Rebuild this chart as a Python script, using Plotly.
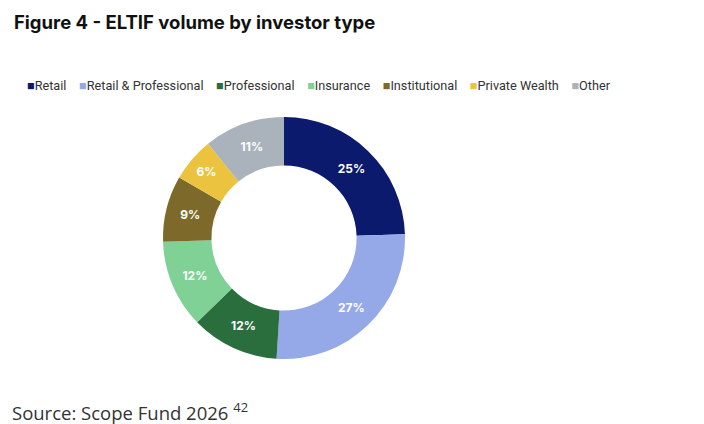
import plotly.graph_objects as go

categories = ["Retail", "Retail & Professional", "Professional", "Insurance",
              "Institutional", "Private Wealth", "Other"]
shares = [25, 27, 12, 12, 9, 6, 11]
colors = ["#0b1a6c", "#95a9e9", "#2a6e3e", "#7fd196", "#7d6a2b", "#ecc33f", "#aab3bc"]

W, H = 704, 424
cx, cy, r = 284, 238, 121

fig = go.Figure(go.Pie(
    labels=categories,
    values=shares,
    text=[f"{v}%" for v in shares],
    texttemplate="%{text}",
    textposition="inside",
    insidetextorientation="horizontal",
    textfont=dict(family="Inter", size=12, color="white", weight=700),
    marker=dict(colors=colors, line=dict(width=0)),
    hole=0.60,
    sort=False,
    direction="clockwise",
    rotation=0,
    showlegend=False,
    domain=dict(x=[(cx - r) / W, (cx + r) / W], y=[1 - (cy + r) / H, 1 - (cy - r) / H]),
))

# legend row (built from categories and colors)
legend_html = "&nbsp;&nbsp;&nbsp;&nbsp;".join(
    f'<span style="color:{c}">■</span>{name}' for name, c in zip(categories, colors)
)

fig.update_layout(
    width=W, height=H,
    margin=dict(l=0, r=0, t=0, b=0),
    paper_bgcolor="white", plot_bgcolor="white",
    annotations=[
        dict(text="<b>Figure 4 - ELTIF volume by investor type</b>",
             x=12 / W, y=1 - 22 / H, xref="paper", yref="paper",
             xanchor="left", yanchor="middle", showarrow=False,
             font=dict(family="Inter", size=18.5, color="#111111")),
        dict(text=legend_html,
             x=25 / W, y=1 - 85 / H, xref="paper", yref="paper",
             xanchor="left", yanchor="middle", showarrow=False,
             font=dict(family="Roboto", size=12.7, color="#333333")),
        dict(text="Source: Scope Fund 2026 <sup>42</sup>",
             x=10 / W, y=1 - 411 / H, xref="paper", yref="paper",
             xanchor="left", yanchor="middle", showarrow=False,
             font=dict(family="Open Sans", size=18.5, color="#333333")),
    ],
)

fig.write_html("out.html", config={"displayModeBar": False},
               post_script="document.body.style.margin='0px';document.body.style.padding='0px';")
